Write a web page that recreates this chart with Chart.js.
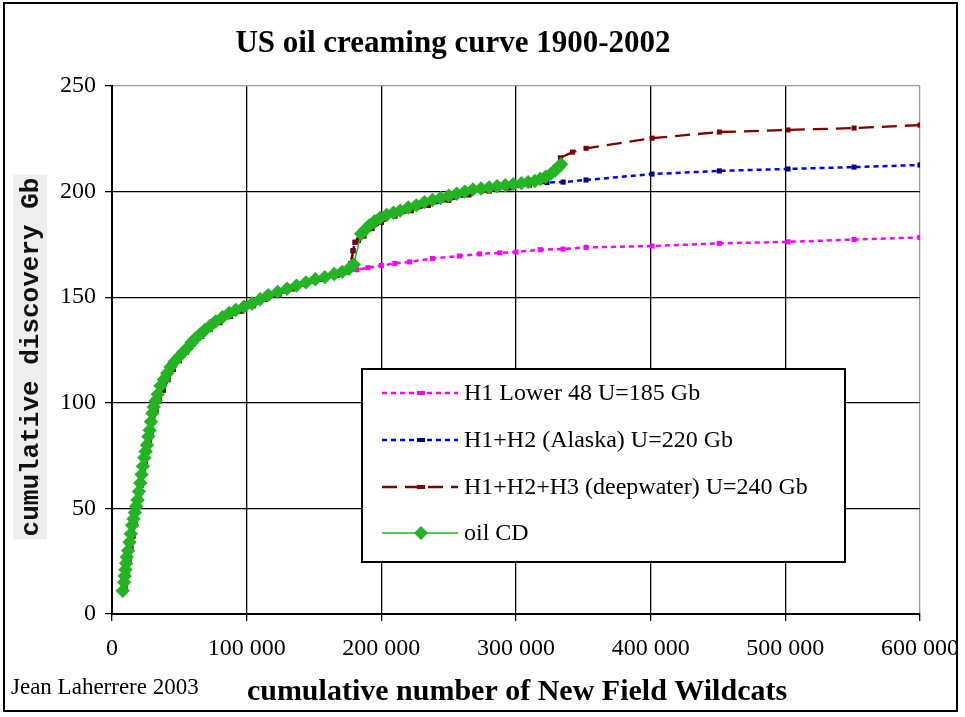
<!DOCTYPE html>
<html>
<head>
<meta charset="utf-8">
<script src="https://cdn.jsdelivr.net/npm/chart.js@4.4.0/dist/chart.umd.min.js"></script>
<style>
  html, body { margin: 0; padding: 0; background: #fff; }
  #wrap { width: 965px; height: 717px; }
</style>
</head>
<body>
<div id="wrap"><canvas id="c" width="965" height="717"></canvas></div>
<script>
// ---- Data ----
const oilCdX = [8000, 9000, 9500, 10000, 10500, 11000, 12000, 13000, 14000, 15000, 16000, 17000, 18000, 19000, 20000,
  21000, 22000, 23000, 24000, 25000, 26000, 27000, 28000, 29000, 30000, 31000, 32500, 34000, 36000, 38500,
  41000, 43500, 46500, 50000, 53000, 56000, 59000, 62000, 65500, 69000, 73000, 77000, 82000, 87000, 92000,
  98000, 104000, 110000, 116000, 123000, 130000, 137000, 144000, 151000, 158000, 165000, 171000, 176000, 179500,
  185000, 188000, 191000, 195000, 199000, 204000, 209000, 214000, 220000, 226000, 232000, 238000, 244000, 250000,
  256000, 262000, 268000, 274000, 280000, 286000, 292000, 298000, 304000, 309000, 314000, 318000, 322000, 326000,
  329000, 331500, 333500];
const oilCdY = [11, 15, 18, 21, 24, 27, 30, 34, 38, 42, 45, 48, 51, 54, 58,
  62, 66, 70, 74, 77, 80, 84, 87, 91, 95, 98, 101, 104, 108, 111,
  114, 117, 119.5, 122, 124, 126, 128.5, 130.5, 132.5, 134.5, 136.5, 138.5, 140.5, 142.5, 144,
  145.5, 147, 149, 151, 152.5, 154, 155.5, 157, 158.5, 159.5, 161, 162, 163.5, 165.5,
  180, 182, 184, 186, 187.5, 189, 190, 191, 192.5, 193.5, 195, 196, 197, 198,
  199, 200, 201, 201.5, 202, 202.5, 203, 203.5, 204, 204.5, 205, 206, 207, 208.5,
  210, 211.5, 213];

// shared early part of the three hypotheses (hidden under the oil CD curve)
const modelEarlyX = [9500, 11000, 12500, 14000, 15500, 17000, 18500, 20000, 21500, 23000, 24500, 26000, 27500, 29000,
  30500, 32500, 35000, 38000, 41500, 45500, 50000, 55000, 60500, 66500, 73000, 80000, 88000, 96000, 105000,
  114000, 124000, 134000, 145000, 156000, 167000, 175000];
const modelEarlyY = [13, 19, 25, 31, 37, 43, 49, 55, 61, 67, 72, 77, 82, 86,
  91, 96, 101, 106, 111, 116, 120, 124, 128, 131.5, 135, 138, 141, 143.5, 146,
  149, 151.5, 154, 156.5, 158.5, 160.5, 162];

const h1TailX = [182000, 190000, 200000, 210000, 221000, 238000, 258000, 273000, 288000, 300000, 318000, 335000,
  352000, 401000, 451000, 502000, 551000, 600000];
const h1TailY = [163, 164, 165, 166, 166.7, 168.3, 169.5, 170.5, 171, 171.4, 172.5, 172.8,
  173.6, 174.2, 175.5, 176.2, 177.3, 178.3];

const h2TailX = [177500, 179000, 180500, 183000, 187000, 193000, 200000, 210000, 222000, 235000, 250000, 265000,
  280000, 295000, 310000, 323000, 335000, 352000, 401000, 451000, 502000, 551000, 600000];
const h2TailY = [166, 172, 176, 177, 179, 182.5, 185.5, 188.5, 191, 193.5, 196, 198.5,
  200.3, 201.8, 203.2, 204.3, 204.5, 205.5, 208.3, 209.8, 210.7, 211.6, 212.6];

const h3TailX = [177500, 179000, 180500, 183000, 187000, 193000, 200000, 210000, 222000, 235000, 250000, 265000,
  280000, 295000, 310000, 318000, 324000, 329000, 333000, 342000, 352000, 401000, 451000, 502000, 551000, 600000];
const h3TailY = [166, 172, 176, 177, 179, 182.5, 185.5, 188.5, 191, 193.5, 196, 198.5,
  200.3, 201.8, 203.2, 205.5, 208, 211.5, 216, 218.7, 220.5, 225.3, 228.2, 229.2, 230.1, 231.5];

const seriesLabels = ['H1 Lower 48 U=185 Gb', 'H1+H2 (Alaska) U=220 Gb', 'H1+H2+H3 (deepwater) U=240 Gb', 'oil CD'];
const xTickValues = [0, 100000, 200000, 300000, 400000, 500000, 600000];
const yTickValues = [0, 50, 100, 150, 200, 250];
const titleText = 'US oil creaming curve 1900-2002';
const xTitleText = 'cumulative number of New Field Wildcats';
const yTitleText = 'cumulative discovery Gb';
const creditText = 'Jean Laherrere 2003';

// ---- helpers ----
const pts = (xs, ys) => xs.map((x, i) => ({ x: x, y: ys[i] }));
const SERIF = "'Liberation Serif', 'Times New Roman', serif";
const GREEN = '#22b422';

const styles = [
  { line: '#ff00ff', marker: '#ff00ff', dash: [5, 4], width: 2.5 },
  { line: '#0000ff', marker: '#000080', dash: [5, 4], width: 2.5 },
  { line: '#800000', marker: '#800000', dash: [15, 8], width: 2.3 },
  { line: GREEN, marker: GREEN, dash: [], width: 1.5 }
];

const datasets = [
  { label: seriesLabels[0], data: pts(modelEarlyX.concat(h1TailX), modelEarlyY.concat(h1TailY)),
    borderColor: styles[0].line, backgroundColor: styles[0].marker, borderDash: styles[0].dash, borderWidth: styles[0].width,
    pointStyle: 'rect', pointRadius: 3.6, pointBorderWidth: 0, pointBackgroundColor: styles[0].marker, order: 3 },
  { label: seriesLabels[1], data: pts(modelEarlyX.concat(h2TailX), modelEarlyY.concat(h2TailY)),
    borderColor: styles[1].line, backgroundColor: styles[1].marker, borderDash: styles[1].dash, borderWidth: styles[1].width,
    pointStyle: 'rect', pointRadius: 3.6, pointBorderWidth: 0, pointBackgroundColor: styles[1].marker, order: 2 },
  { label: seriesLabels[2], data: pts(modelEarlyX.concat(h3TailX), modelEarlyY.concat(h3TailY)),
    borderColor: styles[2].line, backgroundColor: styles[2].marker, borderDash: styles[2].dash, borderWidth: styles[2].width,
    pointStyle: 'rect', pointRadius: 3.6, pointBorderWidth: 0, pointBackgroundColor: styles[2].marker, order: 1 },
  { label: seriesLabels[3], data: pts(oilCdX, oilCdY),
    borderColor: styles[3].line, backgroundColor: GREEN, borderWidth: styles[3].width,
    pointStyle: 'rectRot', pointRadius: 7.2, pointBorderWidth: 0, pointBackgroundColor: GREEN, order: 0 }
];
datasets.forEach(d => { d.showLine = true; d.tension = 0; d.pointHoverRadius = d.pointRadius; });

const fmtX = v => v === 0 ? '0' : (Math.round(v / 1000)) + ' 000';

const decor = {
  id: 'decor',
  beforeDraw(chart) {
    const ctx = chart.ctx;
    ctx.save();
    ctx.fillStyle = '#fff';
    ctx.fillRect(0, 0, chart.width, chart.height);
    ctx.restore();
  },
  afterDraw(chart) {
    const ctx = chart.ctx;
    ctx.save();
    // outer frame
    ctx.strokeStyle = '#000';
    ctx.lineWidth = 2;
    ctx.strokeRect(4, 3, 953, 708);

    // title
    ctx.fillStyle = '#000';
    ctx.textAlign = 'center';
    ctx.textBaseline = 'middle';
    ctx.font = 'bold 31px ' + SERIF;
    ctx.fillText(titleText, 453, 44);

    // x axis title
    ctx.font = 'bold 30px ' + SERIF;
    ctx.fillText(xTitleText, 517, 692);

    // credit
    ctx.textAlign = 'left';
    ctx.font = '23px ' + SERIF;
    ctx.fillText(creditText, 11, 688);

    // y axis title (rotated, grey background)
    ctx.save();
    ctx.translate(30, 357);
    ctx.rotate(-Math.PI / 2);
    ctx.font = 'bold 26px "Liberation Mono", "Courier New", monospace';
    const w = ctx.measureText(yTitleText).width;
    ctx.fillStyle = '#eeeeee';
    ctx.fillRect(-w / 2 - 3, -17, w + 6, 34);
    ctx.fillStyle = '#111';
    ctx.textAlign = 'center';
    ctx.textBaseline = 'middle';
    ctx.fillText(yTitleText, 0, 1);
    ctx.restore();

    // legend
    const lx = 362, ly = 369, lw = 483, lh = 193;
    ctx.fillStyle = '#fff';
    ctx.fillRect(lx, ly, lw, lh);
    ctx.strokeStyle = '#000';
    ctx.lineWidth = 2;
    ctx.strokeRect(lx, ly, lw, lh);
    const rowsY = [393, 440, 487, 533];
    chart.data.datasets.forEach((ds, i) => {
      const y = rowsY[i];
      const st = styles[i];
      ctx.save();
      ctx.strokeStyle = st.line;
      ctx.lineWidth = st.width;
      ctx.setLineDash(st.dash);
      ctx.beginPath();
      ctx.moveTo(382, y);
      ctx.lineTo(458, y);
      ctx.stroke();
      ctx.restore();
      ctx.fillStyle = st.marker;
      if (i === 3) {
        ctx.beginPath();
        ctx.moveTo(421, y - 7);
        ctx.lineTo(428, y);
        ctx.lineTo(421, y + 7);
        ctx.lineTo(414, y);
        ctx.closePath();
        ctx.fill();
      } else {
        ctx.fillRect(417, y - 2, 8, 4);
      }
      ctx.fillStyle = '#000';
      ctx.font = '24px ' + SERIF;
      ctx.textAlign = 'left';
      ctx.textBaseline = 'middle';
      ctx.fillText(ds.label, 464, y + 1);
    });
    ctx.restore();
  }
};

new Chart(document.getElementById('c'), {
  type: 'scatter',
  data: { datasets: datasets },
  options: {
    responsive: false,
    animation: false,
    devicePixelRatio: 1,
    layout: { padding: { left: 0, top: 86, right: 45, bottom: 0 } },
    plugins: { legend: { display: false }, title: { display: false }, tooltip: { enabled: false } },
    scales: {
      x: {
        type: 'linear', min: 0, max: 600000,
        afterBuildTicks: s => { s.ticks = xTickValues.map(v => ({ value: v })); },
        afterFit: s => { s.height = 103; s.paddingLeft = 0; s.paddingRight = 0; },
        ticks: { callback: fmtX, color: '#000', font: { family: SERIF, size: 24 }, padding: 13, maxRotation: 0, autoSkip: false },
        grid: {
          color: c => (c.tick && c.tick.value === 600000) ? '#9a9a9a' : '#000',
          lineWidth: 1.3, drawTicks: true, tickLength: 7, tickColor: '#000'
        },
        border: { display: true, color: '#000', width: 2 }
      },
      y: {
        type: 'linear', min: 0, max: 250,
        afterBuildTicks: s => { s.ticks = yTickValues.map(v => ({ value: v })); },
        afterFit: s => { s.width = 112; s.paddingTop = 0; s.paddingBottom = 0; },
        ticks: { color: '#000', font: { family: SERIF, size: 24 }, padding: 9 },
        grid: {
          color: c => (c.tick && c.tick.value === 250) ? '#9a9a9a' : '#000',
          lineWidth: 1.3, drawTicks: true, tickLength: 7, tickColor: '#000'
        },
        border: { display: true, color: '#000', width: 2 }
      }
    }
  },
  plugins: [decor]
});
</script>
</body>
</html>
